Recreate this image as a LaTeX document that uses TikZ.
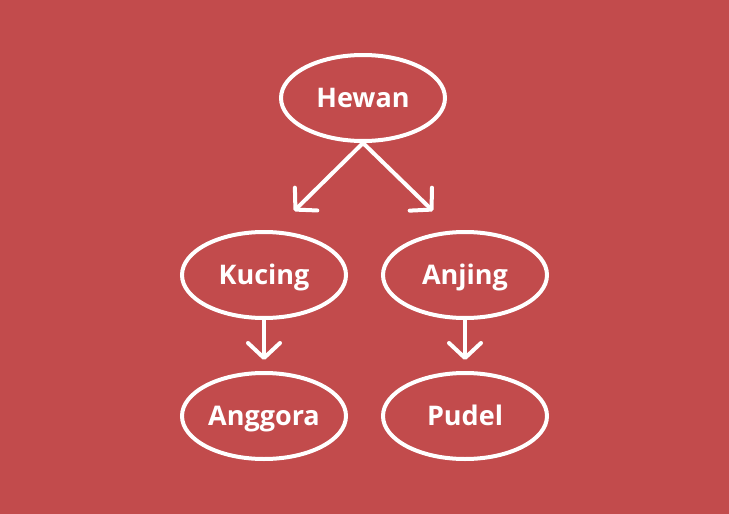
\documentclass[tikz,border=0pt]{standalone}
\usepackage{fontspec}
\setmainfont{Open Sans}
\usetikzlibrary{shapes.geometric,arrows.meta}
\definecolor{bg}{RGB}{194,75,76}
\begin{document}
\begin{tikzpicture}[x=1pt,y=-1pt,
  oval/.style={ellipse,draw=white,line width=4pt,minimum width=164pt,minimum height=86pt,inner sep=0pt,text=white,text height=19.5pt,text depth=0pt,font=\fontsize{27}{27}\selectfont\bfseries},
  conn/.style={draw=white,line width=4pt,line cap=round,-{Straight Barb[length=15pt,width=32pt,round]}}]
\fill[bg] (0,0) rectangle (729,514);
\useasboundingbox (0,0) rectangle (729,514);
\node[oval] (hewan) at (363,98) {Hewan};
\node[oval] (kucing) at (264,275) {Kucing};
\node[oval] (anjing) at (465,275) {Anjing};
\node[oval] (anggora) at (264,416) {Anggora};
\node[oval] (pudel) at (465,416) {Pudel};
\coordinate (t1) at (294,211);
\coordinate (t2) at (433,211);
\coordinate (t3) at (264,360);
\coordinate (t4) at (465,360);
\draw[conn] (hewan.south) -- (t1);
\draw[conn] (hewan.south) -- (t2);
\draw[conn] (kucing.south) -- (t3);
\draw[conn] (anjing.south) -- (t4);
\end{tikzpicture}
\end{document}
